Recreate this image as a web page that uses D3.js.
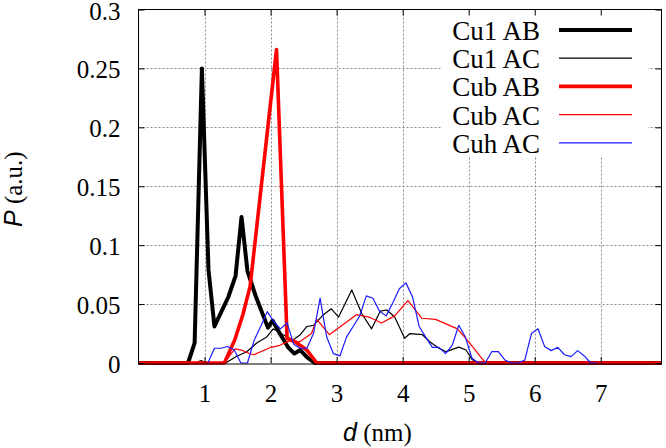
<!DOCTYPE html>
<html>
<head>
<meta charset="utf-8">
<script src="https://cdn.jsdelivr.net/npm/d3@7"></script>
<style>
  html, body { margin: 0; padding: 0; background: #fff; }
  svg { display: block; }
</style>
</head>
<body>
<svg id="chart" width="666" height="448"></svg>
<script>
// ---- data ----
const seriesNames = ["Cu1 AB", "Cu1 AC", "Cub AB", "Cub AC", "Cuh AC"];

const cu1AB_d = [0, 0.75, 0.85, 0.96, 1.06, 1.15, 1.36, 1.47, 1.56, 1.65, 1.78, 1.96, 2.03, 2.14, 2.27, 2.36, 2.45, 2.55, 2.67, 7.92];
const cu1AB_P = [0, 0, 0.017, 0.250, 0.079, 0.031, 0.056, 0.074, 0.124, 0.078, 0.056, 0.030, 0.036, 0.025, 0.013, 0.008, 0.011, 0.005, 0, 0];

const cu1AC_d = [0.85, 0.95, 1.02, 1.32, 1.48, 1.64, 1.79, 1.94, 2.04, 2.19, 2.34, 2.45, 2.55, 2.65, 2.80, 2.92, 3.03, 3.23, 3.38, 3.53, 3.66, 3.76, 3.88, 4.03, 4.11, 4.30, 4.41, 4.55, 4.66, 4.85, 4.96, 5.05, 5.15, 5.80, 5.85, 5.90];
const cu1AC_P = [0, 0.002, 0, 0, 0.0055, 0.0096, 0.017, 0.022, 0.029, 0.024, 0.0195, 0.024, 0.031, 0.032, 0.041, 0.046, 0.039, 0.062, 0.042, 0.029, 0.044, 0.045, 0.039, 0.021, 0.025, 0.024, 0.018, 0.0125, 0.0096, 0.0135, 0.011, 0.003, 0, 0, 0.001, 0];

const cubAB_d = [0, 1.30, 1.46, 1.58, 1.69, 2.09, 2.25, 2.37, 2.55, 2.70, 7.92];
const cubAB_P = [0, 0, 0.020, 0.041, 0.065, 0.266, 0.021, 0.018, 0.011, 0, 0];

const cubAC_d = [1.20, 1.31, 1.46, 1.56, 1.68, 1.75, 1.99, 2.14, 2.29, 2.44, 2.62, 2.70, 2.89, 3.30, 3.49, 3.68, 3.88, 4.08, 4.29, 4.50, 4.83, 4.97, 5.10, 5.22, 5.27];
const cubAC_P = [0, 0.001, 0.012, 0.011, 0.008, 0.007, 0.013, 0.015, 0.019, 0.018, 0.025, 0.037, 0.024, 0.041, 0.039, 0.034, 0.040, 0.053, 0.038, 0.037, 0.029, 0.020, 0.011, 0.0025, 0];

const cuhAC_d = [1.05, 1.15, 1.25, 1.35, 1.45, 1.55, 1.65, 1.75, 1.85, 1.95, 2.05, 2.15, 2.25, 2.35, 2.45, 2.55, 2.65, 2.75, 2.85, 2.95, 3.05, 3.15, 3.25, 3.35, 3.45, 3.55, 3.65, 3.75, 3.85, 3.95, 4.05, 4.15, 4.25, 4.35, 4.45, 4.55, 4.65, 4.75, 4.85, 4.95, 5.05, 5.15, 5.25, 5.35, 5.45, 5.55, 5.65, 5.75, 5.85, 5.95, 6.05, 6.15, 6.25, 6.35, 6.45, 6.55, 6.65, 6.75, 6.85, 6.95];
const cuhAC_P = [0, 0.0125, 0.0125, 0.014, 0.011, 0, 0, 0.019, 0.031, 0.0436, 0.035, 0.029, 0.034, 0.016, 0.0125, 0.0125, 0.025, 0.055, 0.022, 0.008, 0.006, 0.022, 0.031, 0.040, 0.057, 0.055, 0.044, 0.040, 0.051, 0.063, 0.068, 0.056, 0.031, 0.022, 0.0133, 0.0133, 0.008, 0.015, 0.032, 0.022, 0.004, 0, 0, 0.0096, 0.0096, 0.0025, 0, 0, 0.0025, 0.025, 0.029, 0.014, 0.0105, 0.0133, 0.007, 0.0054, 0.0105, 0.006, 0, 0];

const xTicks = [1, 2, 3, 4, 5, 6, 7];
const yTicks = [0, 0.05, 0.1, 0.15, 0.2, 0.25, 0.3];
const yTickLabels = ["0", "0.05", "0.1", "0.15", "0.2", "0.25", "0.3"];

// ---- layout ----
const svg = d3.select("#chart");
const L = 138.5, R = 661.5, T = 9.5, B = 363;
const x = d3.scaleLinear().domain([0, 7.92]).range([L, R]);
const y = d3.scaleLinear().domain([0, 0.3]).range([B, T]);
const serif = "'Liberation Serif', 'Times New Roman', serif";
const sans = "'Liberation Sans', Arial, sans-serif";

// grid
const grid = svg.append("g").attr("stroke", "#8a8a8a").attr("stroke-width", 1).attr("stroke-dasharray", "2,2");
xTicks.forEach(t => grid.append("line").attr("x1", Math.round(x(t)) + 0.5).attr("x2", Math.round(x(t)) + 0.5).attr("y1", T).attr("y2", B));
yTicks.filter(t => t > 0 && t < 0.3).forEach(t => grid.append("line").attr("x1", L).attr("x2", R).attr("y1", Math.round(y(t)) + 0.5).attr("y2", Math.round(y(t)) + 0.5));

// legend background (opaque key box)
svg.append("rect").attr("x", 442).attr("y", T + 1).attr("width", 206).attr("height", 145).attr("fill", "#fff");

// series
const series = [
  { name: seriesNames[0], d: cu1AB_d, p: cu1AB_P, color: "#000000", w: 4 },
  { name: seriesNames[1], d: cu1AC_d, p: cu1AC_P, color: "#000000", w: 1.2 },
  { name: seriesNames[2], d: cubAB_d, p: cubAB_P, color: "#ff0000", w: 3.6 },
  { name: seriesNames[3], d: cubAC_d, p: cubAC_P, color: "#ff0000", w: 1.2 },
  { name: seriesNames[4], d: cuhAC_d, p: cuhAC_P, color: "#1a1aff", w: 1.2 }
];
const line = d3.line().x(v => x(v[0])).y(v => y(v[1]));
series.forEach(s => {
  const pts = s.d.map((dv, i) => [dv, s.p[i]]);
  svg.append("path").attr("d", line(pts)).attr("fill", "none")
    .attr("stroke", s.color).attr("stroke-width", s.w).attr("stroke-linejoin", "round");
});

// border
svg.append("rect").attr("x", L).attr("y", T).attr("width", R - L).attr("height", B - T + 1)
  .attr("fill", "none").attr("stroke", "#000").attr("stroke-width", 1);

// axes
const ax = svg.append("g").attr("transform", `translate(0,${B})`)
  .call(d3.axisBottom(x).tickValues(xTicks).tickSize(-6).tickPadding(21).tickFormat(d3.format("d")));
const ay = svg.append("g").attr("transform", `translate(${L},0)`)
  .call(d3.axisLeft(y).tickValues(yTicks).tickSize(-6).tickPadding(18).tickFormat((d, i) => yTickLabels[i]));
const axT = svg.append("g").attr("transform", `translate(0,${T})`)
  .call(d3.axisTop(x).tickValues(xTicks).tickSize(-6).tickFormat(""));
const ayR = svg.append("g").attr("transform", `translate(${R},0)`)
  .call(d3.axisRight(y).tickValues(yTicks).tickSize(-6).tickFormat(""));
[ax, ay, axT, ayR].forEach(g => { g.select(".domain").remove(); g.selectAll(".tick line").attr("stroke", "#000"); });
[ax, ay].forEach(g => g.selectAll("text").attr("font-family", serif).attr("font-size", 25).attr("fill", "#000"));
ay.selectAll("text").attr("dy", "0.38em");

// axis titles
const xt = svg.append("text").attr("x", 343).attr("y", 441).attr("font-size", 25).attr("fill", "#000");
xt.append("tspan").attr("font-family", sans).attr("font-style", "italic").text("d");
xt.append("tspan").attr("font-family", serif).text(" (nm)");
const yt = svg.append("text").attr("transform", "translate(22,227) rotate(-90)").attr("font-size", 25).attr("fill", "#000");
yt.append("tspan").attr("font-family", sans).attr("font-style", "italic").text("P");
yt.append("tspan").attr("font-family", serif).text(" (a.u.)");

// legend
const leg = svg.append("g");
series.forEach((s, i) => {
  const cy = 30 + i * 28.2;
  leg.append("text").attr("x", 540).attr("y", cy + 10).attr("text-anchor", "end")
    .attr("font-family", serif).attr("font-size", 27).attr("fill", "#000").text(s.name);
  leg.append("line").attr("x1", 559).attr("x2", 632).attr("y1", cy).attr("y2", cy)
    .attr("stroke", s.color).attr("stroke-width", s.w);
});
</script>
</body>
</html>
